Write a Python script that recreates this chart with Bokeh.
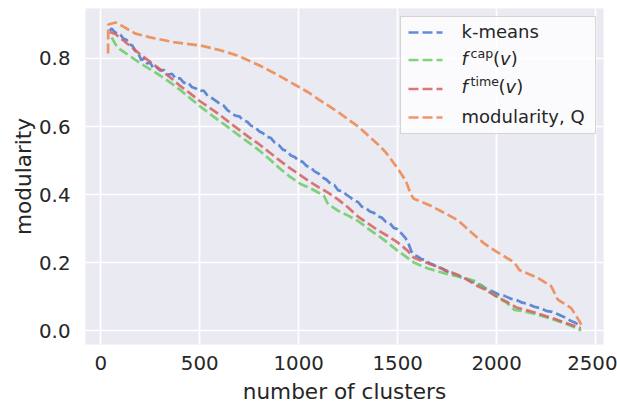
from bokeh.plotting import figure
from bokeh.models import (Range1d, FixedTicker, PrintfTickFormatter, Label,
                          BoxAnnotation, Arrow)
from bokeh.embed import file_html
from bokeh.resources import INLINE

# ---------------- data ----------------
kmeans_x = [45, 55, 70, 85, 100, 115, 130, 145, 160, 175, 190, 205, 220, 235,
            250, 265, 280, 300, 320, 340, 360, 380, 400, 420, 440, 460, 480, 500,
            520, 540, 560, 580, 600, 620, 640, 660, 680, 700, 720, 740, 760, 780,
            800, 820, 840, 860, 880, 900, 920, 940, 960, 980, 1000, 1020, 1040,
            1060, 1080, 1100, 1120, 1140, 1160, 1180, 1200, 1220, 1240, 1260,
            1280, 1300, 1320, 1340, 1360, 1380, 1400, 1420, 1440, 1460, 1480,
            1500, 1520, 1540, 1555, 1570, 1585, 1600, 1620, 1640, 1660, 1680,
            1700, 1720, 1740, 1760, 1780, 1800, 1830, 1860, 1890, 1920, 1950,
            1980, 2010, 2040, 2070, 2100, 2130, 2160, 2190, 2220, 2250, 2280,
            2310, 2340, 2370, 2400, 2420]
kmeans_y = [0.882, 0.888, 0.878, 0.872, 0.870, 0.858, 0.855, 0.842, 0.838, 0.822,
            0.815, 0.795, 0.800, 0.785, 0.788, 0.772, 0.775, 0.765, 0.766, 0.752,
            0.755, 0.740, 0.742, 0.728, 0.730, 0.716, 0.712, 0.704, 0.706, 0.690,
            0.684, 0.676, 0.668, 0.662, 0.648, 0.640, 0.632, 0.630, 0.618, 0.614,
            0.602, 0.598, 0.586, 0.580, 0.570, 0.566, 0.552, 0.545, 0.532, 0.528,
            0.515, 0.510, 0.500, 0.496, 0.484, 0.480, 0.468, 0.462, 0.450, 0.444,
            0.432, 0.428, 0.412, 0.410, 0.400, 0.392, 0.382, 0.378, 0.364, 0.360,
            0.350, 0.346, 0.336, 0.332, 0.320, 0.316, 0.302, 0.298, 0.285, 0.272,
            0.255, 0.232, 0.222, 0.218, 0.210, 0.208, 0.198, 0.194, 0.186, 0.184,
            0.176, 0.172, 0.165, 0.162, 0.155, 0.150, 0.140, 0.134, 0.122, 0.115,
            0.106, 0.102, 0.094, 0.090, 0.082, 0.078, 0.070, 0.066, 0.058, 0.055,
            0.048, 0.040, 0.030, 0.022, 0.015]

fcap_x = [55, 83, 120, 150, 200, 250, 300, 350, 400, 450, 500, 550, 600, 650,
          700, 750, 800, 850, 908, 950, 1009, 1060, 1127, 1145, 1161, 1200, 1250,
          1298, 1350, 1414, 1450, 1499, 1540, 1582, 1650, 1752, 1800, 1887, 1950,
          2022, 2050, 2090, 2150, 2200, 2275, 2350, 2400, 2427]
fcap_y = [0.862, 0.833, 0.818, 0.806, 0.786, 0.768, 0.750, 0.730, 0.708, 0.684,
          0.660, 0.638, 0.616, 0.595, 0.573, 0.552, 0.530, 0.505, 0.475, 0.455,
          0.431, 0.418, 0.397, 0.375, 0.367, 0.352, 0.338, 0.323, 0.300, 0.274,
          0.258, 0.235, 0.218, 0.200, 0.183, 0.166, 0.160, 0.146, 0.120, 0.091,
          0.082, 0.061, 0.055, 0.048, 0.035, 0.020, 0.008, 0.000]

ftime_x = [45, 74, 100, 150, 200, 250, 300, 350, 400, 450, 500, 550, 600, 650,
           700, 750, 800, 850, 900, 950, 1000, 1050, 1100, 1150, 1200, 1250, 1300,
           1350, 1400, 1450, 1500, 1550, 1580, 1620, 1680, 1750, 1800, 1850, 1900,
           1950, 2000, 2050, 2100, 2150, 2200, 2250, 2300, 2350, 2400, 2425]
ftime_y = [0.878, 0.872, 0.860, 0.836, 0.812, 0.790, 0.768, 0.745, 0.720, 0.698,
           0.675, 0.655, 0.635, 0.612, 0.590, 0.568, 0.548, 0.525, 0.502, 0.480,
           0.460, 0.440, 0.422, 0.405, 0.385, 0.362, 0.335, 0.315, 0.295, 0.278,
           0.259, 0.235, 0.215, 0.205, 0.192, 0.176, 0.165, 0.150, 0.132, 0.118,
           0.100, 0.085, 0.068, 0.060, 0.052, 0.042, 0.033, 0.022, 0.012, 0.007]

modq_x = [37, 38, 75, 110, 175, 250, 368, 504, 600, 690, 800, 900, 959, 1050,
          1100, 1200, 1300, 1400, 1440, 1490, 1541, 1566, 1580, 1667, 1803, 1870,
          1937, 2005, 2090, 2115, 2208, 2275, 2309, 2377, 2419, 2427]
modq_y = [0.815, 0.900, 0.906, 0.895, 0.873, 0.862, 0.848, 0.838, 0.825, 0.809,
          0.780, 0.750, 0.730, 0.700, 0.680, 0.642, 0.600, 0.548, 0.524, 0.485,
          0.441, 0.402, 0.388, 0.367, 0.325, 0.290, 0.256, 0.230, 0.200, 0.178,
          0.155, 0.131, 0.091, 0.066, 0.027, 0.017]

x_ticks = [0, 500, 1000, 1500, 2000, 2500]
y_ticks = [0.0, 0.2, 0.4, 0.6, 0.8]

# ---------------- styling ----------------
X0, X1 = -77, 2540
Y0, Y1 = -0.041, 0.947
FONT = "DejaVu Sans"
TXT = "#262626"
BLUE, GREEN, RED, ORANGE = "#4878D0", "#6ACC64", "#D65F5F", "#EE854A"
LW, DASH, ALPHA = 2.7, "10 4", 0.85

FL, FR, FT, FB = 85, 603, 8, 344   # frame edges in px


def dx(px):
    return X0 + (px - FL) / (FR - FL) * (X1 - X0)


def dy(py):
    return Y1 - (py - FT) / (FB - FT) * (Y1 - Y0)


p = figure(width=617, height=406, output_backend="svg", toolbar_location=None,
           x_range=Range1d(X0, X1), y_range=Range1d(Y0, Y1),
           min_border_left=FL, min_border_right=617 - FR,
           min_border_top=FT, min_border_bottom=406 - FB)

p.background_fill_color = "#EAEAF2"
p.border_fill_color = "white"
p.outline_line_color = None

for g in (p.xgrid, p.ygrid):
    g.grid_line_color = "white"
    g.grid_line_width = 1.7

p.xaxis.ticker = FixedTicker(ticks=x_ticks)
p.yaxis.ticker = FixedTicker(ticks=y_ticks)
p.yaxis.formatter = PrintfTickFormatter(format="%.1f")

for ax in (p.xaxis[0], p.yaxis[0]):
    ax.axis_line_color = None
    ax.major_tick_line_color = None
    ax.minor_tick_line_color = None
    ax.major_tick_out = 0
    ax.major_tick_in = 0
    ax.minor_tick_out = 0
    ax.minor_tick_in = 0
    ax.major_label_text_font = FONT
    ax.major_label_text_font_size = "19.8px"
    ax.major_label_text_color = TXT
    ax.axis_label_text_font = FONT
    ax.axis_label_text_font_size = "21.6px"
    ax.axis_label_text_font_style = "normal"
    ax.axis_label_text_color = TXT

p.xaxis.axis_label = "number of clusters"
p.yaxis.axis_label = "modularity"
p.xaxis.major_label_standoff = 11
p.xaxis.axis_label_standoff = 6
p.yaxis.major_label_standoff = 15
p.yaxis.axis_label_standoff = 0

style = dict(line_width=LW, line_dash=DASH, line_alpha=ALPHA)
series = [(kmeans_x, kmeans_y, BLUE), (fcap_x, fcap_y, GREEN),
          (ftime_x, ftime_y, RED), (modq_x, modq_y, ORANGE)]
for xs, ys, col in series:
    p.line(xs, ys, line_color=col, **style)

# ---------------- legend (drawn by hand, pixel layout) ----------------
p.add_layout(BoxAnnotation(left=dx(400), right=dx(595), top=dy(16),
                           bottom=dy(133), fill_color="white", fill_alpha=0.8,
                           line_color="#CCCCCC", line_alpha=0.8, line_width=1,
                           level="annotation"))

row_y = [32, 59.5, 88.5, 117]          # sample line centres (px)
for (xs, ys, col), ry in zip(series, row_y):
    p.add_layout(Arrow(x_start=dx(408), y_start=dy(ry), x_end=dx(442),
                       y_end=dy(ry), start=None, end=None, line_color=col,
                       line_width=LW, line_dash=DASH, line_alpha=ALPHA,
                       level="annotation"))


def piece(px, py, text, size=18.0, italic=False):
    # py is the wanted baseline in px; Bokeh's alphabetic anchor sits ~0.39em lower
    p.add_layout(Label(x=dx(px), y=dy(py - 0.39 * size), text=text,
                       text_font=FONT, text_font_size=f"{size}px",
                       text_font_style="italic" if italic else "normal",
                       text_color=TXT, text_align="left",
                       text_baseline="alphabetic", level="overlay"))


piece(461, 38.5, "k-means")
for base, sup_text, sup_w in ((65.0, "cap", 22.5), (93.5, "time", 28.0)):
    piece(461, base, "f", italic=True)
    piece(470, base - 7.5, sup_text, size=12.6)
    x0 = 470 + sup_w
    piece(x0, base, "(")
    piece(x0 + 7.0, base, "v", italic=True)
    piece(x0 + 17.7, base, ")")
piece(461, 122.7, "modularity, Q")

open("out.html", "w").write(file_html(p, INLINE))
